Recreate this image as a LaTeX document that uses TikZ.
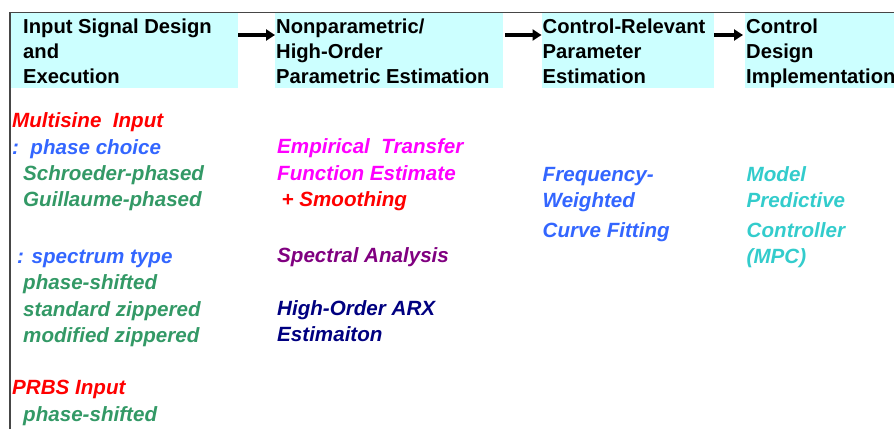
\documentclass[tikz,border=0pt]{standalone}
\usepackage{fontspec}
\setmainfont{Liberation Sans}
\usetikzlibrary{arrows.meta}
\definecolor{boxfill}{RGB}{204,255,255}
\definecolor{framegray}{RGB}{70,70,70}
\definecolor{cred}{RGB}{255,0,0}
\definecolor{cblue}{RGB}{51,102,255}
\definecolor{cgreen}{RGB}{51,153,102}
\definecolor{cmagenta}{RGB}{255,0,255}
\definecolor{cpurple}{RGB}{128,0,128}
\definecolor{cnavy}{RGB}{0,0,128}
\definecolor{cteal}{RGB}{51,204,204}
\tikzset{
  stagebox/.style={fill=boxfill, draw=none, inner sep=0pt, anchor=north west, minimum height=75pt},
  hdr/.style={anchor=base west, inner sep=0pt, text=black, font=\bfseries\fontsize{20.2}{24}\selectfont},
  item/.style={anchor=base west, inner sep=0pt, font=\bfseries\itshape\fontsize{20.6}{24}\selectfont},
  flow/.style={line width=3.2pt, -{Triangle[length=9pt,width=11pt]}},
  frameline/.style={draw=framegray, line width=1.3pt}
}
\begin{document}
\begin{tikzpicture}[x=1pt,y=-1pt]
\useasboundingbox (0,0) rectangle (894,429);

% stage boxes
\node[stagebox, minimum width=228pt] (b1) at (10,13) {};
\node[stagebox, minimum width=228pt] (b2) at (275,13) {};
\node[stagebox, minimum width=172pt] (b3) at (541.5,13) {};
\node[stagebox, minimum width=149pt] (b4) at (745,13) {};

% frame along top and left
\draw[frameline] (10,429) -- (10,12.5) -- (894,12.5);

% stage titles
\node[hdr] (t11) at (23,33.5) {Input Signal Design};
\node[hdr] (t12) at (23,58.5) {and};
\node[hdr] (t13) at (23,83.5) {Execution};
\node[hdr] (t21) at (276,33.5) {Nonparametric/};
\node[hdr] (t22) at (276,58.5) {High-Order};
\node[hdr] (t23) at (276,83.5) {Parametric Estimation};
\node[hdr] (t31) at (542.5,33.5) {Control-Relevant};
\node[hdr] (t32) at (542.5,58.5) {Parameter};
\node[hdr] (t33) at (542.5,83.5) {Estimation};
\node[hdr] (t41) at (746,33.5) {Control};
\node[hdr] (t42) at (746,58.5) {Design};
\node[hdr] (t43) at (746,83.5) {Implementation};

% arrows between stages
\coordinate (ay) at (0,35);
\draw[flow] (b1.east |- ay) -- (b2.west |- ay);
\draw[flow, shorten <=2pt] (b2.east |- ay) -- (b3.west |- ay);
\draw[flow, shorten >=2pt] (b3.east |- ay) -- (b4.west |- ay);

% column 1: input signals
\node[item, text=cred]   (c11) at (12,127.5) {Multisine\ \ Input};
\node[item, text=cblue]  (c12) at (12,154) {:\ \ phase choice};
\node[item, text=cgreen] (c13) at (23,180.5) {Schroeder-phased};
\node[item, text=cgreen] (c14) at (23,206.7) {Guillaume-phased};
\node[item, text=cblue]  (c15) at (17,263.3) {: spectrum type};
\node[item, text=cgreen] (c16) at (23,289.8) {phase-shifted};
\node[item, text=cgreen] (c17) at (23,316) {standard zippered};
\node[item, text=cgreen] (c18) at (23,342) {modified zippered};
\node[item, text=cred]   (c19) at (12,394.5) {PRBS Input};
\node[item, text=cgreen] (c110) at (23,421) {phase-shifted};

% column 2: estimation methods
\node[item, text=cmagenta] (c21) at (277,153.5) {Empirical\ \ Transfer};
\node[item, text=cmagenta] (c22) at (277,180) {Function Estimate};
\node[item, text=cred]     (c23) at (281.5,206.3) {+ Smoothing};
\node[item, text=cpurple]  (c24) at (277,262.8) {Spectral Analysis};
\node[item, text=cnavy]    (c25) at (277,315.3) {High-Order ARX};
\node[item, text=cnavy]    (c26) at (277,341.8) {Estimaiton};

% column 3: parameter estimation
\node[item, text=cblue] (c31) at (542.5,181.5) {Frequency-};
\node[item, text=cblue] (c32) at (542.5,207.3) {Weighted};
\node[item, text=cblue] (c33) at (542.5,237.3) {Curve Fitting};

% column 4: controller
\node[item, text=cteal] (c41) at (746.5,181.5) {Model};
\node[item, text=cteal] (c42) at (746.5,207.3) {Predictive};
\node[item, text=cteal] (c43) at (746.5,237.3) {Controller};
\node[item, text=cteal] (c44) at (746.5,263.5) {(MPC)};
\end{tikzpicture}
\end{document}
